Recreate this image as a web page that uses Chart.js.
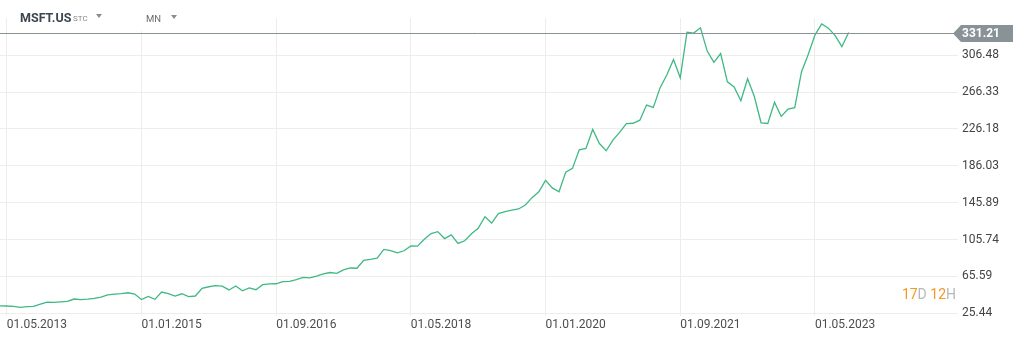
<!DOCTYPE html>
<html>
<head>
<meta charset="utf-8">
<script src="https://cdn.jsdelivr.net/npm/chart.js@4/dist/chart.umd.min.js"></script>
<style>
    html, body { margin: 0; padding: 0; background: #fff; }
    #wrap { position: relative; width: 1025px; height: 340px; font-family: Roboto, sans-serif; }
    #priceChart { position: absolute; left: 0; top: 0; }
    .hdr { position: absolute; white-space: nowrap; }
    .tri { position: absolute; width: 0; height: 0; border-left: 3px solid transparent; border-right: 3px solid transparent; border-top: 4px solid #8c8c8c; }
</style>
</head>
<body>
<div id="wrap">
    <canvas id="priceChart" width="1025" height="340"></canvas>
    <div class="hdr" style="left:120px; top:17px; width:80px; height:14px; background:#fff;"></div>
    <div class="hdr" style="left:20px; top:10px; font-size:12.5px; font-weight:bold; color:#3b4650;">MSFT.US</div>
    <div class="hdr" style="left:73px; top:14px; font-size:8px; color:#8a8a8a;">STC</div>
    <div class="tri" style="left:96px; top:14px;"></div>
    <div class="hdr" style="left:146px; top:13px; font-size:9.5px; color:#6a6a6a;">MN</div>
    <div class="tri" style="left:171px; top:15px;"></div>
</div>
<script>
    // Giá đóng cửa theo tháng, từ 04.2013 đến 10.2023
    const closeValues = [
        33.60, 33.40, 33.00, 31.84, 32.60, 32.90, 35.41, 37.60, 37.41,
        37.84, 38.31, 40.99, 40.40, 40.94, 41.70, 43.16, 45.43, 46.36, 46.95, 47.81, 46.45,
        40.40, 43.85, 40.66, 48.64, 46.86, 44.15, 46.70, 43.52, 44.26, 52.64, 54.35, 55.48,
        55.09, 50.88, 55.23, 49.87, 53.00, 51.17, 56.68, 57.46, 57.60, 59.92, 60.26, 62.14,
        64.65, 63.98, 65.86, 68.46, 69.84, 68.93, 72.70, 74.77, 74.49, 83.18, 84.17, 85.54,
        95.01, 93.77, 91.27, 93.52, 98.84, 98.61, 106.08, 112.33, 114.37, 106.81, 110.89, 101.57,
        104.43, 112.03, 117.94, 130.60, 123.68, 133.96, 136.27, 137.86, 139.03, 143.37, 151.38, 157.70,
        170.23, 162.01, 157.71, 179.21, 183.25, 203.51, 205.01, 225.53, 210.33, 202.47, 214.07, 222.42,
        231.96, 232.38, 235.77, 252.18, 249.68, 270.90, 284.91, 301.88, 281.92, 331.62, 330.59, 336.32,
        310.98, 298.79, 308.31, 277.52, 271.87, 256.83, 280.74, 261.47, 232.90, 232.13, 255.14, 239.82,
        247.81, 249.42, 288.30, 307.26, 328.39, 340.54, 335.92, 327.76, 315.75, 331.21
    ];

    // Nhãn trục thời gian và vị trí (chỉ số tháng) tương ứng
    const xTickIndex = [1, 21, 41, 61, 81, 101, 121];
    const xTickLabels = ['01.05.2013', '01.01.2015', '01.09.2016', '01.05.2018', '01.01.2020', '01.09.2021', '01.05.2023'];

    // Nhãn trục giá
    const yTickValues = [25.44, 65.59, 105.74, 145.89, 186.03, 226.18, 266.33, 306.48];

    const lastPrice = 331.21;
    const countdownParts = [['17', '#f7971e'], ['D', '#b5b9bd'], [' 12', '#f7971e'], ['H', '#b5b9bd']];

    const gridColor = '#ededed';
    const fontFamily = 'Roboto, sans-serif';

    // Đường giá hiện tại + nhãn giá + bộ đếm thời gian
    const priceTagPlugin = {
        id: 'priceTag',
        afterDatasetsDraw(chart) {
            const ctx = chart.ctx;
            const area = chart.chartArea;
            const py = Math.round(chart.scales.y.getPixelForValue(lastPrice)) + 0.5;

            ctx.save();
            ctx.strokeStyle = '#889297';
            ctx.lineWidth = 1;
            ctx.beginPath();
            ctx.moveTo(0, py);
            ctx.lineTo(area.right - 3, py);
            ctx.stroke();

            ctx.fillStyle = '#889297';
            ctx.beginPath();
            ctx.moveTo(area.right - 5, py);
            ctx.lineTo(area.right + 3, py - 8.5);
            ctx.lineTo(area.right + 55, py - 8.5);
            ctx.lineTo(area.right + 55, py + 8.5);
            ctx.lineTo(area.right + 3, py + 8.5);
            ctx.closePath();
            ctx.fill();

            ctx.fillStyle = '#ffffff';
            ctx.font = 'bold 12px ' + fontFamily;
            ctx.textBaseline = 'middle';
            ctx.textAlign = 'left';
            ctx.fillText(lastPrice.toFixed(2), area.right + 4, py + 0.5);

            // 17D 12H
            ctx.font = '14px ' + fontFamily;
            let x = area.right - 2;
            for (let i = countdownParts.length - 1; i >= 0; i--) {
                const [txt, col] = countdownParts[i];
                x -= ctx.measureText(txt).width;
                ctx.fillStyle = col;
                ctx.fillText(txt, x, 295);
            }
            ctx.restore();
        }
    };

    const ctx = document.getElementById('priceChart');
    new Chart(ctx, {
        type: 'line',
        data: {
            datasets: [{
                data: closeValues.map((v, i) => ({ x: i, y: v })),
                borderColor: '#3fb984',
                borderWidth: 1.3,
                pointRadius: 0,
                fill: false,
                tension: 0
            }]
        },
        options: {
            responsive: false,
            animation: false,
            layout: { padding: { top: 18, left: 0, right: 0, bottom: 0 } },
            plugins: {
                legend: { display: false },
                tooltip: { enabled: false }
            },
            scales: {
                x: {
                    type: 'linear',
                    min: 0,
                    max: 142.24,
                    afterFit: s => { s.height = 24; },
                    afterBuildTicks: s => { s.ticks = xTickIndex.map(v => ({ value: v })); },
                    ticks: {
                        autoSkip: false,
                        maxRotation: 0,
                        align: 'start',
                        padding: 2,
                        color: '#4d4d4d',
                        font: { family: fontFamily, size: 12 },
                        callback: v => xTickLabels[xTickIndex.indexOf(v)]
                    },
                    grid: { color: gridColor, drawTicks: false },
                    border: { display: false }
                },
                y: {
                    position: 'right',
                    min: 22.50,
                    max: 347.0,
                    afterFit: s => { s.width = 67; },
                    afterBuildTicks: s => { s.ticks = yTickValues.map(v => ({ value: v })); },
                    ticks: {
                        padding: 4,
                        color: '#444444',
                        font: { family: fontFamily, size: 12 },
                        callback: v => v.toFixed(2)
                    },
                    grid: { color: gridColor, drawTicks: false },
                    border: { display: false }
                }
            }
        },
        plugins: [priceTagPlugin]
    });
</script>
</body>
</html>
